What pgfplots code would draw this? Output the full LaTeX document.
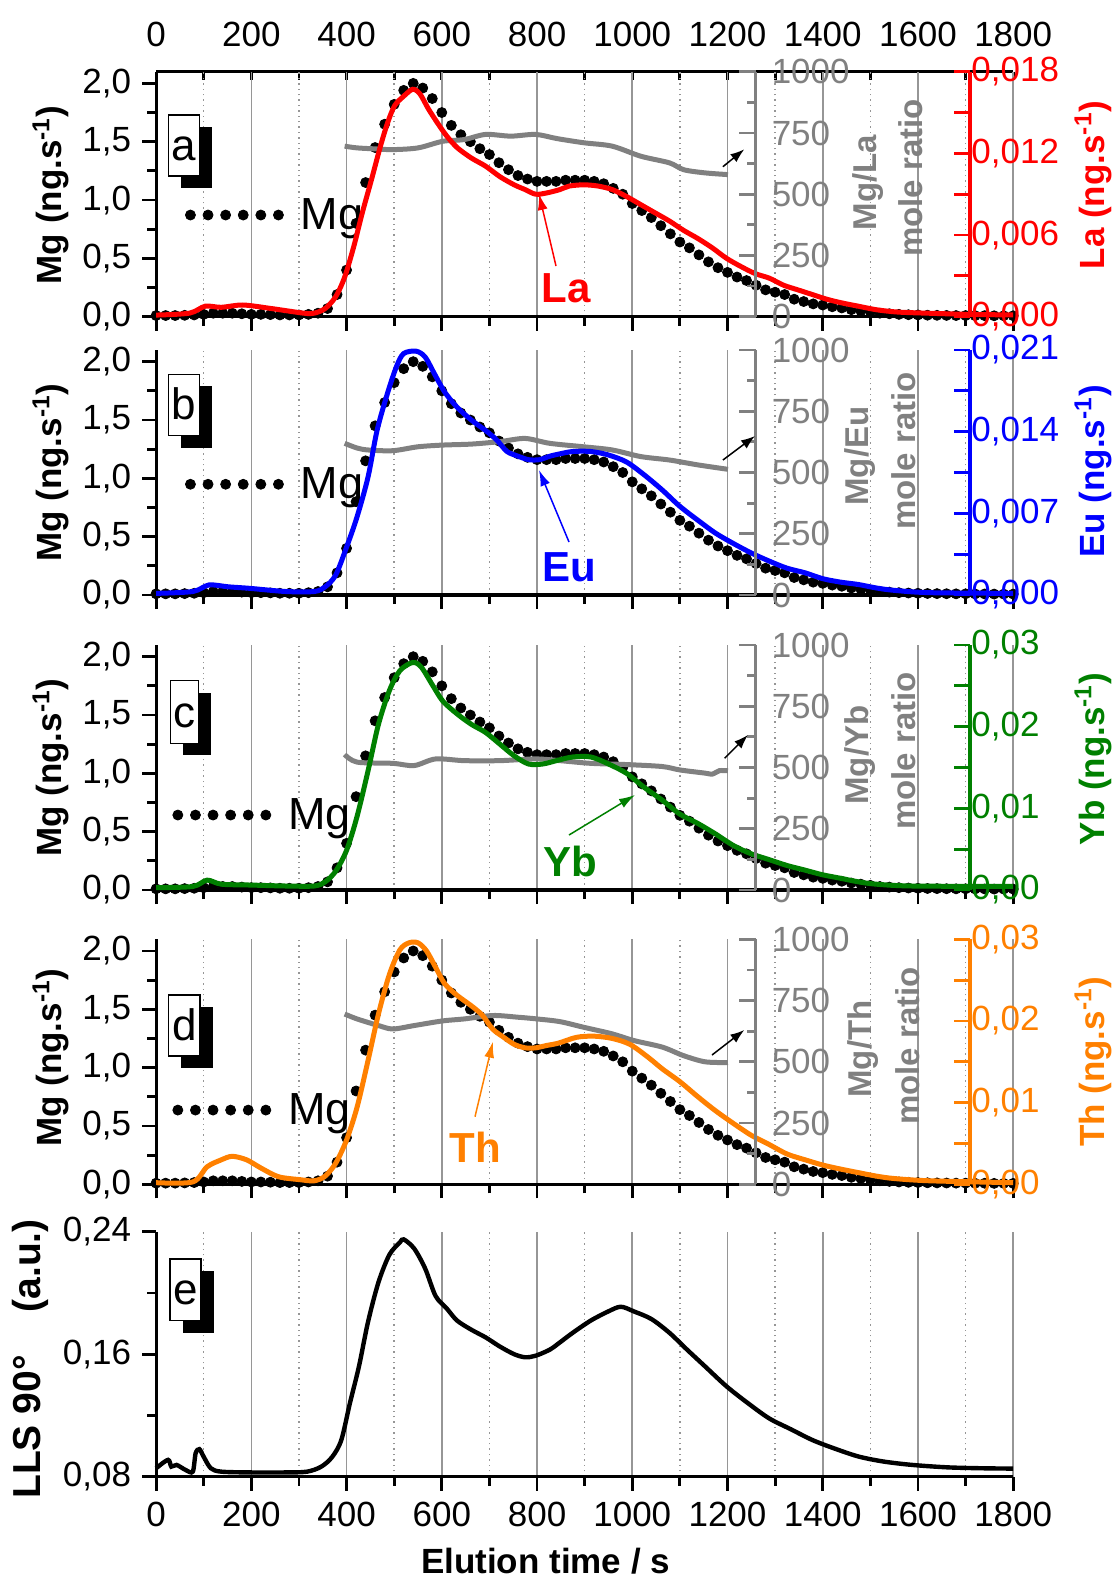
\documentclass[border=0pt]{standalone}
\usepackage{pgfplots}
\pgfplotsset{compat=1.18}
\usepackage{pgfplotstable}
\usepackage{fontspec}
\setmainfont{Liberation Sans}
\usetikzlibrary{arrows.meta,calc}

\newcommand\fs[1]{\fontsize{#1}{#1}\selectfont}
\definecolor{elred}{RGB}{255,0,0}
\definecolor{elblue}{RGB}{0,0,255}
\definecolor{elgreen}{RGB}{0,128,0}
\definecolor{elorange}{RGB}{255,128,0}
\definecolor{rgray}{RGB}{128,128,128}
\definecolor{ggray}{RGB}{150,150,150}

\pgfplotstableread{
t v
0 0.01
20 0.01
40 0.01
60 0.012
80 0.015
100 0.02
120 0.03
140 0.03
160 0.03
180 0.025
200 0.02
220 0.02
240 0.018
260 0.015
280 0.015
300 0.015
320 0.02
340 0.03
360 0.07
380 0.19
400 0.40
420 0.80
440 1.15
460 1.45
480 1.65
500 1.82
520 1.94
540 2.00
560 1.96
580 1.87
600 1.75
620 1.64
640 1.56
660 1.50
680 1.44
700 1.39
720 1.32
740 1.26
760 1.21
780 1.18
800 1.16
820 1.16
840 1.16
860 1.17
880 1.17
900 1.17
920 1.16
940 1.14
960 1.10
980 1.05
1000 0.97
1020 0.91
1040 0.85
1060 0.78
1080 0.71
1100 0.64
1120 0.59
1140 0.53
1160 0.47
1180 0.42
1200 0.38
1220 0.34
1240 0.31
1260 0.27
1280 0.23
1300 0.21
1320 0.19
1340 0.15
1360 0.13
1380 0.11
1400 0.10
1420 0.085
1440 0.075
1460 0.06
1480 0.05
1500 0.04
1520 0.03
1540 0.025
1560 0.02
1580 0.017
1600 0.015
1620 0.013
1640 0.012
1660 0.011
1680 0.01
1700 0.01
1720 0.009
1740 0.009
1760 0.008
1780 0.008
1800 0.008
}\mgdata

\pgfplotstableread{
t La
0 0.00012
70 0.00026
103 0.00077
137 0.00069
182 0.00086
242 0.00060
310 0.00026
332 0.00026
355 0.00060
377 0.00146
396 0.00291
415 0.00514
433 0.00763
452 0.01003
471 0.01251
486 0.01423
501 0.01551
520 0.01620
539 0.01671
554 0.01637
572 0.01526
591 0.01423
610 0.01329
632 0.01243
662 0.01166
692 0.01106
722 0.01029
752 0.00969
775 0.00934
797 0.00900
820 0.00909
848 0.00934
868 0.00960
898 0.00969
928 0.00960
958 0.00934
988 0.00883
1018 0.00823
1048 0.00763
1078 0.00703
1108 0.00634
1138 0.00574
1168 0.00506
1198 0.00429
1228 0.00369
1258 0.00317
1288 0.00283
1318 0.00231
1348 0.00197
1378 0.00163
1408 0.00129
1438 0.00103
1475 0.00077
1513 0.00051
1558 0.00034
1618 0.00026
1708 0.00017
1800 0.00013
}\latab

\pgfplotstableread{
t Eu
0 0.00014
77 0.0003
111 0.00086
152 0.0007
197 0.00057
272 0.0003
332 0.0003
355 0.0007
377 0.0017
400 0.0041
422 0.0067
445 0.0101
464 0.0141
486 0.0173
505 0.0196
520 0.0207
546 0.0209
565 0.0204
584 0.0190
606 0.0174
632 0.0161
662 0.0150
692 0.0141
715 0.0133
737 0.0123
760 0.0119
782 0.0116
805 0.0116
827 0.0119
848 0.0121
875 0.0123
913 0.0123
950 0.0120
988 0.0114
1025 0.0103
1063 0.0090
1100 0.0076
1138 0.0064
1175 0.0053
1213 0.0044
1250 0.0036
1288 0.0029
1325 0.0023
1363 0.0019
1400 0.0014
1438 0.0011
1475 0.0009
1513 0.0006
1550 0.0004
1625 0.0002
1800 0.00014
}\eutab

\pgfplotstableread{
t Yb
0 0.00029
77 0.00043
107 0.00121
137 0.00071
197 0.00061
272 0.00049
332 0.00049
355 0.00100
377 0.00229
400 0.00486
422 0.00900
445 0.01457
467 0.02029
490 0.02443
512 0.02686
539 0.02786
557 0.02729
580 0.02514
602 0.02314
632 0.02157
662 0.02029
692 0.01929
722 0.01786
752 0.01643
782 0.01543
812 0.01543
842 0.01586
875 0.01629
913 0.01629
950 0.01543
988 0.01429
1025 0.01257
1063 0.01100
1100 0.00929
1138 0.00814
1175 0.00686
1213 0.00543
1250 0.00443
1288 0.00371
1325 0.00300
1363 0.00243
1400 0.00186
1438 0.00143
1475 0.00100
1513 0.00071
1588 0.00049
1800 0.00043
}\ybtab

\pgfplotstableread{
t Th
0 0.0002
77 0.00029
107 0.00214
137 0.003
160 0.00343
190 0.003
220 0.002
257 0.00093
302 0.00057
332 0.00043
355 0.001
377 0.00257
400 0.00543
422 0.00943
445 0.01514
467 0.02086
490 0.02571
512 0.02871
531 0.02957
550 0.02957
568 0.02857
587 0.02657
606 0.02457
632 0.02314
662 0.02186
685 0.02071
707 0.019
730 0.018
752 0.01714
775 0.01671
797 0.01671
820 0.017
845 0.01729
883 0.018
920 0.01814
958 0.01786
995 0.01714
1033 0.01557
1063 0.01414
1100 0.01257
1138 0.01071
1175 0.009
1213 0.00743
1250 0.006
1288 0.00486
1325 0.00371
1363 0.003
1400 0.00236
1438 0.00186
1475 0.00143
1513 0.001
1550 0.00071
1625 0.00043
1800 0.0002
}\thtab

\pgfplotstableread{
t r
396 696
422 689
460 685
497 682
550 689
602 716
647 723
692 744
745 737
797 744
842 727
898 710
958 696
1018 655
1078 628
1108 600
1153 587
1201 580
}\rla

\pgfplotstableread{
t r
396 619
422 600
445 592
497 589
550 605
602 612
662 616
722 626
775 639
827 619
898 605
958 592
1018 565
1078 551
1138 531
1201 513
}\reu

\pgfplotstableread{
t r
396 553
422 522
497 517
542 508
587 535
647 528
722 528
797 535
848 528
913 517
988 512
1063 504
1100 490
1153 477
1168 473
1183 487
1201 487
}\ryb

\pgfplotstableread{
t r
396 695
422 675
467 648
497 634
542 648
602 667
647 675
707 689
760 682
800 675
848 664
898 641
958 614
1003 587
1063 560
1108 525
1153 500
1201 497
}\rth

\pgfplotstableread{
t L
0 0.0855
25 0.091
32 0.0866
43 0.0877
62 0.0844
77 0.0833
83 0.0953
91 0.098
100 0.093
115 0.0855
137 0.0833
197 0.0828
272 0.0828
317 0.0833
347 0.0866
370 0.093
389 0.104
407 0.128
426 0.152
445 0.181
467 0.207
490 0.225
512 0.233
520 0.235
542 0.229
565 0.216
587 0.198
610 0.190
632 0.182
662 0.176
692 0.171
722 0.165
752 0.160
775 0.158
797 0.159
827 0.163
845 0.167
875 0.174
913 0.182
950 0.188
976 0.191
1003 0.188
1040 0.183
1078 0.174
1115 0.163
1153 0.152
1198 0.139
1243 0.128
1288 0.118
1333 0.111
1378 0.104
1423 0.0986
1475 0.0932
1528 0.0899
1588 0.0877
1663 0.0861
1738 0.0855
1800 0.0853
}\llsdata

\pgfplotsset{
 base/.style={scale only axis, width=428.55pt, height=122.5pt, xmin=0, xmax=1800, anchor=south west},
 frame/.style={base, axis x line*=bottom, axis y line*=left,
   xtick={0,200,...,1800}, minor xtick={100,300,...,1700},
   xmajorgrids, xminorgrids,
   major grid style={draw=ggray, line width=0.8pt, solid},
   minor grid style={draw=ggray, line width=0.7pt, dotted},
   tick align=outside, major tick length=7pt, minor tick length=4.5pt,
   axis line style={line width=1.6pt, -},
   tick style={line width=1.4pt, black},
   yticklabel style={font=\fs{17.5}, xshift=-2pt},
   xticklabel style={font=\fs{17.5}, yshift=-2pt},
   clip=false},
 mgaxis/.style={frame, ymin=0, ymax=2.1, xticklabels={},
   ytick={0,0.5,1,1.5,2}, yticklabels={{0,0},{0,5},{1,0},{1,5},{2,0}},
   minor ytick={0.25,0.75,1.25,1.75}},
 dataaxis/.style={base, hide axis, clip=false},
 ratioaxis/.style={scale only axis, anchor=south west, width=299.8pt, height=122.5pt,
   xmin=0, xmax=1, ymin=0, ymax=1000,
   axis x line=none, axis y line*=right, ytick={0,250,500,750,1000}, yticklabels={0,250,500,750,1000},
   minor ytick={125,375,625,875}, tick align=inside, major tick length=8.5pt, minor tick length=4.5pt,
   axis line style={draw=rgray, line width=1.6pt, -}, tick style={draw=rgray, line width=1.4pt},
   yticklabel style={text=rgray, font=\fs{17.5}, xshift=4.5pt}},
 elaxis/.style={scale only axis, anchor=south west, width=406.95pt, height=122.5pt,
   xmin=0, xmax=1, ymin=0, scaled y ticks=false,
   axis x line=none, axis y line*=right, tick align=inside, major tick length=8pt, minor tick length=8pt,
   axis line style={line width=1.6pt, -}, tick style={line width=1.4pt},
   yticklabel style={font=\fs{17.5}, xshift=-2.8pt}},
}

\newcommand\elpanel[9]{%
 \begin{axis}[mgaxis, at={(78.05pt,#1)}, legend cell align=left,
   legend style={draw=none, fill=none, anchor=west, at={#9}, font=\fs{22.5}, inner sep=0pt,
     nodes={inner sep=1pt}, /tikz/every odd column/.append style={column sep=7.5pt}}]
   \addplot[only marks, mark=*, mark size=2.5pt, black,
     legend image code/.code={\foreach \k in {0,...,5}{\fill[black] (\k*8.8pt+2.5pt,0pt) circle[radius=2.5pt];}}]
     table {\mgdata};
   \addlegendentry{Mg}
 \end{axis}
 \begin{axis}[dataaxis, at={(78.05pt,#1)}, ymin=0, ymax=1000]
   \addplot[rgray, line width=2.5pt, smooth] table {#8};
 \end{axis}
 \begin{axis}[dataaxis, at={(78.05pt,#1)}, ymin=0, ymax=#3]
   \addplot[#2, line width=2.5pt, smooth] table {#7};
 \end{axis}
 \begin{axis}[ratioaxis, at={(78.05pt,#1)}]\end{axis}
 \begin{axis}[elaxis, at={(78.05pt,#1)}, ymax=#3, ytick={#4}, yticklabels={#5}, minor ytick={#6},
   axis line style={draw=#2}, tick style={draw=#2}, yticklabel style={text=#2}]\end{axis}
}

\newcommand\letterbox[5]{% x1 y1 (box top-left), x2 y2 (box bottom-right), letter
  \fill[black] ($(#1,#2)+(6.4pt,-5.9pt)$) rectangle ($(#3,#4)+(6.4pt,-5.9pt)$);
  \draw[fill=white, line width=0.6pt] (#1,#2) rectangle (#3,#4);
  \node[font=\fs{22}, anchor=base, inner sep=0pt] at ($0.5*(#1,0)+0.5*(#3,0)+(0,#4)+(0,8pt)$) {#5};
}

\begin{document}
\begin{tikzpicture}
\useasboundingbox (0,0) rectangle (557pt,-787.5pt);

% panel a top axis
\begin{axis}[base, at={(78.05pt,-158.35pt)}, ymin=0, ymax=1, axis x line*=top, axis y line=none,
  xtick={0,200,...,1800}, minor xtick={100,300,...,1700},
  xticklabels={0,200,400,600,800,1000,1200,1400,1600,1800},
  tick align=inside, major tick length=4pt, minor tick length=4pt,
  axis line style={line width=1.6pt, -}, tick style={line width=1.4pt, black},
  xticklabel style={font=\fs{17.5}, yshift=9pt}]
\end{axis}

\elpanel{-158.35pt}{elred}{0.018}{0,0.006,0.012,0.018}{{0,000},{0,006},{0,012},{0,018}}{0.003,0.009,0.015}{\latab}{\rla}{(0.0333,0.415)}
\elpanel{-297.5pt}{elblue}{0.021}{0,0.007,0.014,0.021}{{0,000},{0,007},{0,014},{0,021}}{0.0035,0.0105,0.0175}{\eutab}{\reu}{(0.0333,0.452)}
\elpanel{-445pt}{elgreen}{0.03}{0,0.01,0.02,0.03}{{0,00},{0,01},{0,02},{0,03}}{0.005,0.015,0.025}{\ybtab}{\ryb}{(0.0186,0.306)}
\elpanel{-592.15pt}{elorange}{0.03}{0,0.01,0.02,0.03}{{0,00},{0,01},{0,02},{0,03}}{0.005,0.015,0.025}{\thtab}{\rth}{(0.0186,0.303)}

% panel e
\begin{axis}[frame, at={(78.05pt,-738.35pt)}, ymin=0.08, ymax=0.24,
  xticklabels={0,200,400,600,800,1000,1200,1400,1600,1800},
  ytick={0.08,0.16,0.24}, yticklabels={{0,08},{0,16},{0,24}}, minor ytick={0.12,0.2}]
  \addplot[black, line width=2.2pt, smooth] table {\llsdata};
\end{axis}

% axis labels
\begin{scope}[every node/.style={rotate=90, font=\bfseries\fs{17.5}}]
\node at (25.5pt,-97.5pt) {Mg (ng.s\textsuperscript{-1})};
\node at (25.5pt,-236.25pt) {Mg (ng.s\textsuperscript{-1})};
\node at (25.5pt,-383.75pt) {Mg (ng.s\textsuperscript{-1})};
\node at (25.5pt,-528.75pt) {Mg (ng.s\textsuperscript{-1})};
\node[font=\bfseries\fs{19.5}] at (15pt,-679.5pt) {LLS 90°\hspace{1.1em}(a.u.)};
\node[text=elred] at (546.5pt,-92.5pt) {La (ng.s\textsuperscript{-1})};
\node[text=elblue] at (546.5pt,-235.75pt) {Eu (ng.s\textsuperscript{-1})};
\node[text=elgreen] at (546.5pt,-379.5pt) {Yb (ng.s\textsuperscript{-1})};
\node[text=elorange] at (546.5pt,-530.85pt) {Th (ng.s\textsuperscript{-1})};
\end{scope}
\begin{scope}[every node/.style={rotate=90, font=\bfseries\fs{16.5}, text=rgray}]
\node at (434pt,-91.25pt) {Mg/La};
\node at (455.5pt,-89pt) {mole ratio};
\node at (430pt,-228pt) {Mg/Eu};
\node at (452pt,-225.5pt) {mole ratio};
\node at (430pt,-377.5pt) {Mg/Yb};
\node at (452pt,-375.5pt) {mole ratio};
\node at (431.5pt,-524.5pt) {Mg/Th};
\node at (454pt,-523pt) {mole ratio};
\end{scope}

% element annotations
\begin{scope}[every node/.style={font=\bfseries\fs{21}}]
\node[text=elred] at (283pt,-144pt) {La};
\node[text=elblue] at (284.75pt,-283.75pt) {Eu};
\node[text=elgreen] at (285.25pt,-430.9pt) {Yb};
\node[text=elorange] at (237.5pt,-573.5pt) {Th};
\end{scope}
\begin{scope}[line width=0.75pt]
\draw[elred, -{Latex[length=8pt,width=5pt]}] (278pt,-133pt) -- (269.5pt,-97pt);
\draw[elblue, -{Latex[length=8pt,width=5pt]}] (284.5pt,-271pt) -- (269.5pt,-235pt);
\draw[elgreen, -{Latex[length=8pt,width=5pt]}] (284.5pt,-417.5pt) -- (317.5pt,-397.5pt);
\draw[elorange, -{Latex[length=8pt,width=5pt]}] (237.5pt,-558.35pt) -- (246.45pt,-520.85pt);
\draw[black, -{Latex[length=7pt,width=5pt]}] (361.45pt,-83.35pt) -- (372.15pt,-74.65pt);
\draw[black, -{Latex[length=7pt,width=5pt]}] (361.45pt,-230pt) -- (377.5pt,-218pt);
\draw[black, -{Latex[length=7pt,width=5pt]}] (362.3pt,-379.15pt) -- (373.95pt,-367.5pt);
\draw[black, -{Latex[length=7pt,width=5pt]}] (356pt,-527.5pt) -- (372.15pt,-515pt);
\end{scope}

% panel letters
\letterbox{84.3pt}{-57.5pt}{99.65pt}{-88pt}{a}
\letterbox{84.3pt}{-187.15pt}{99.65pt}{-217.85pt}{b}
\letterbox{85.2pt}{-340.35pt}{99.1pt}{-371.65pt}{c}
\letterbox{84.3pt}{-497.5pt}{100pt}{-528pt}{d}
\letterbox{85pt}{-629.5pt}{100.5pt}{-660.35pt}{e}

% x label
\node[font=\bfseries\fs{17.5}, anchor=base] at (272.75pt,-786.5pt) {Elution time / s};
\end{tikzpicture}
\end{document}
